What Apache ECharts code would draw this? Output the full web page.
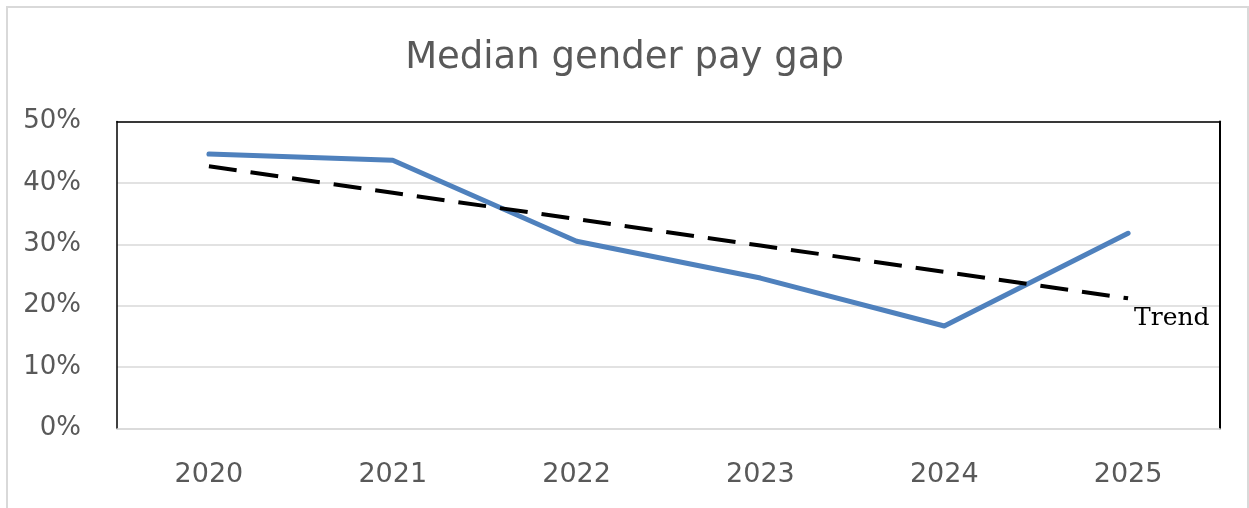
<!DOCTYPE html>
<html><head><meta charset="utf-8">
<script src="https://cdn.jsdelivr.net/npm/echarts@6/dist/echarts.min.js"></script>
<style>html,body{margin:0;padding:0;background:#fff}#c{width:1249px;height:508px}</style>
</head><body><div id="c"></div>
<script>
const years = ['2020','2021','2022','2023','2024','2025'];
const payGap = [44.7, 43.7, 30.5, 24.5, 16.7, 31.8];
const trend = [42.7, 38.4, 34.1, 29.8, 25.5, 21.2];
const yTicks = [0, 10, 20, 30, 40, 50];

const chart = echarts.init(document.getElementById('c'));
const sans = 'DejaVu Sans';
chart.setOption({
  animation: false,
  title: {
    text: 'Median gender pay gap', left: 'center', top: 35,
    textStyle: { fontFamily: sans, fontSize: 37, fontWeight: 'normal', color: '#595959' }
  },
  graphic: [{ type: 'rect', shape: { x: 7, y: 7, width: 1241, height: 520 }, style: { fill: 'none', stroke: '#d9d9d9', lineWidth: 2 }, silent: true }],
  grid: { left: 117, right: 29, top: 121.5, bottom: 79.5 },
  xAxis: [{
    type: 'category', data: years, boundaryGap: true,
    axisLine: { onZero: false, lineStyle: { color: '#d9d9d9', width: 1.5 } },
    axisTick: { show: false },
    axisLabel: { fontFamily: sans, fontSize: 27, color: '#595959', margin: 33 }
  }, {
    type: 'category', data: years, position: 'top',
    axisLine: { onZero: false, lineStyle: { color: '#000', width: 1.5 } },
    axisTick: { show: false }, axisLabel: { show: false }
  }],
  yAxis: [{
    type: 'value', min: yTicks[0], max: yTicks[yTicks.length - 1], interval: 10,
    axisLine: { show: true, onZero: false, lineStyle: { color: '#000', width: 1.5 } },
    axisTick: { show: false },
    splitLine: { lineStyle: { color: '#d9d9d9', width: 1.5 } },
    axisLabel: { fontFamily: sans, fontSize: 26, color: '#595959', margin: 36, formatter: v => v + '%' }
  }, {
    type: 'value', min: 0, max: 50, interval: 10, position: 'right',
    axisLine: { show: true, onZero: false, lineStyle: { color: '#000', width: 2 } },
    axisTick: { show: false }, axisLabel: { show: false }, splitLine: { show: false }
  }],
  series: [{
    type: 'line', data: payGap, symbol: 'none', z: 3,
    lineStyle: { color: '#4f81bd', width: 5, cap: 'round', join: 'round' }
  }, {
    type: 'line', data: trend, symbol: 'none', z: 4,
    lineStyle: { color: '#000', width: 4, type: [28, 14] },
    endLabel: {
      show: true, formatter: 'Trend', fontFamily: 'DejaVu Serif', fontSize: 25, color: '#000',
      offset: [-2, 20]
    }
  }]
});
</script></body></html>
